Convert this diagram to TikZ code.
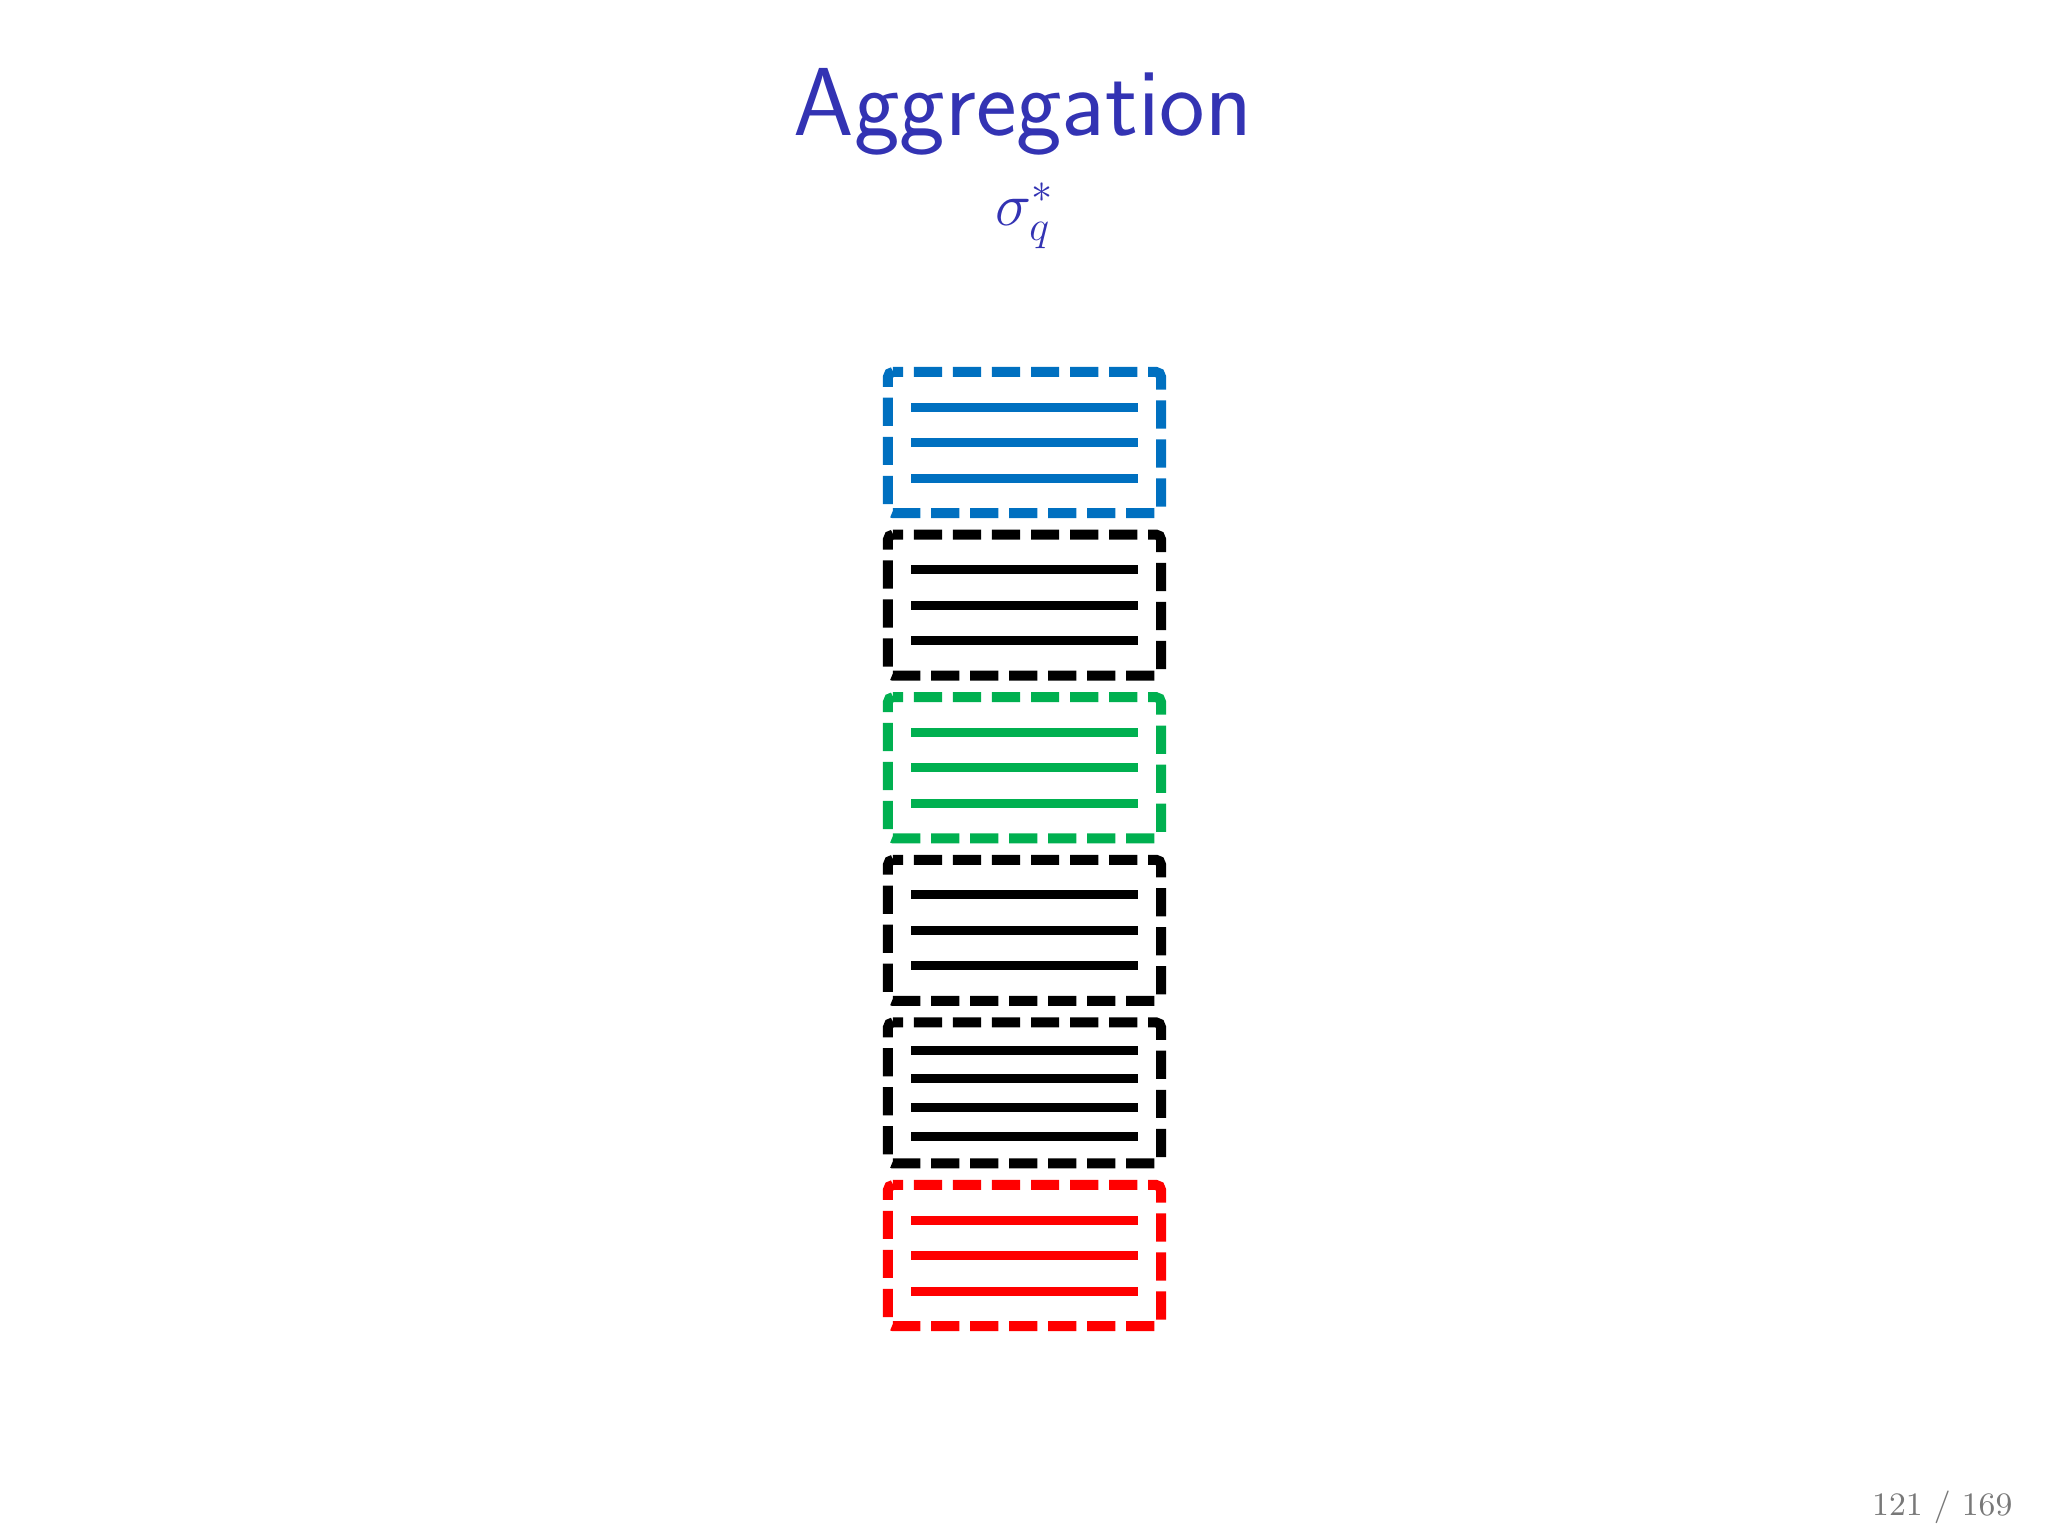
\documentclass[tikz,border=0pt]{standalone}
\definecolor{titleblue}{RGB}{51,51,179}
\definecolor{boxblue}{RGB}{0,112,192}
\definecolor{boxgreen}{RGB}{0,176,80}
\definecolor{boxred}{RGB}{255,0,0}
\definecolor{pagegray}{RGB}{120,120,120}
\begin{document}
\begin{tikzpicture}[x=0.01cm,y=-0.01cm,
  recbox/.style={minimum width=2.73cm, minimum height=1.41cm,
    inner sep=0pt, outer sep=0pt},
  recborder/.style={draw=#1, line width=0.1cm, rounded corners=0.05cm,
    dash pattern=on 0.282cm off 0.108cm, dash phase=0.18cm},
  recline/.style={draw=#1, line width=0.09cm}
]
\useasboundingbox (0,0) rectangle (2048,1536);
\node[anchor=base, text=titleblue, inner sep=0pt, font=\fontsize{27.5}{32}\selectfont\sffamily] (title) at (1023,135) {Aggregation};
\node[anchor=base, text=titleblue, inner sep=0pt, font=\fontsize{18}{22}\selectfont] (sub) at (1025,225) {$\sigma_q^*$};
\node[anchor=base east, text=pagegray, inner sep=0pt, font=\fontsize{9.3}{11}\selectfont] (page) at (2013,1515) {121 / 169};

\foreach \k/\c in {1/boxblue,2/black,3/boxgreen,4/black,6/boxred}{
  \pgfmathsetmacro{\cy}{442.5+162.6*(\k-1)}
  \node[recbox] (b\k) at (1024.5,\cy) {};
  \draw[recborder=\c] (b\k.north west) -- (b\k.north east) -- (b\k.south east) -- (b\k.south west) -- cycle;
  \foreach \o in {-35.5,0,35.5}{
    \draw[recline=\c] ([shift={(-113.5,\o)}]b\k.center) -- ([shift={(113.5,\o)}]b\k.center);
  }
}
\pgfmathsetmacro{\cy}{442.5+162.6*4}
\node[recbox] (b5) at (1024.5,\cy) {};
\draw[recborder=black] (b5.north west) -- (b5.north east) -- (b5.south east) -- (b5.south west) -- cycle;
\foreach \o in {-42.5,-14,14.5,43.5}{
  \draw[recline=black] ([shift={(-113.5,\o)}]b5.center) -- ([shift={(113.5,\o)}]b5.center);
}
\end{tikzpicture}
\end{document}
